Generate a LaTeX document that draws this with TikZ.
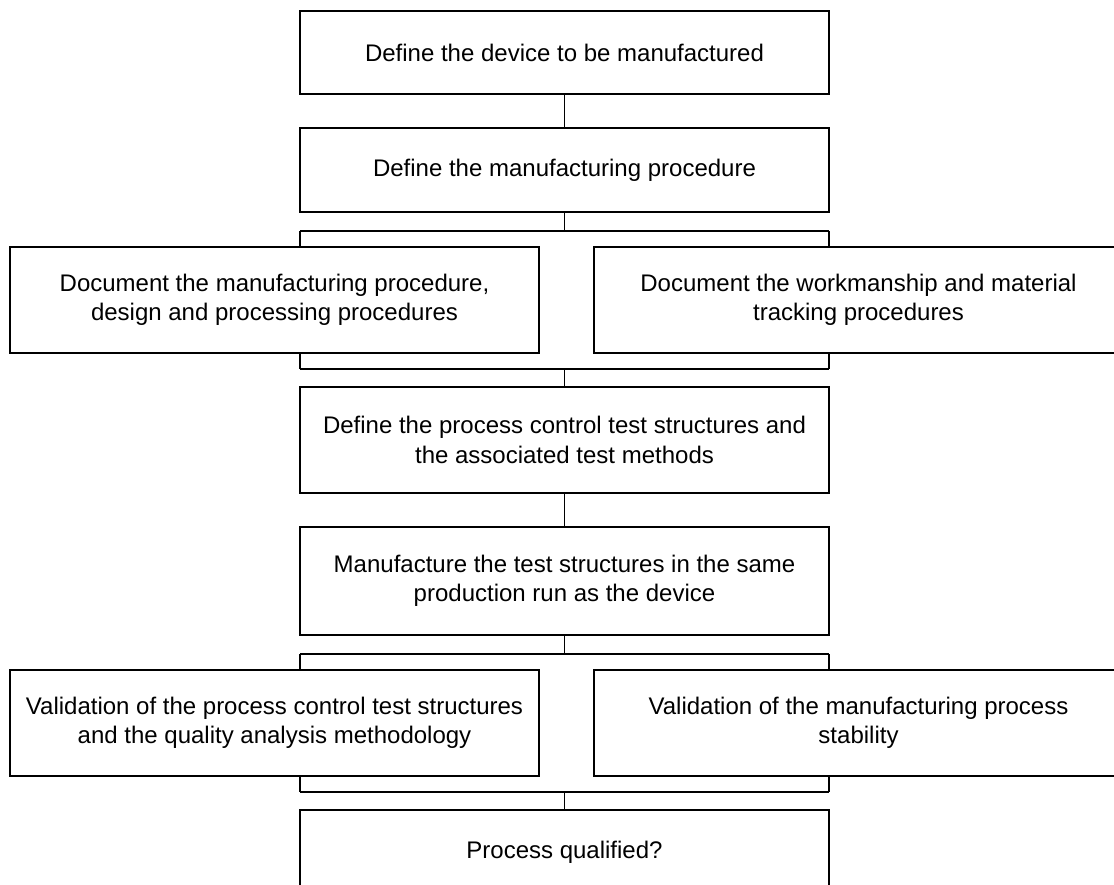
\documentclass[tikz,border=0pt]{standalone}
\usepackage{fontspec}
\setmainfont{Liberation Sans}
\begin{document}
\begin{tikzpicture}[x=1pt,y=-1pt,
  box/.style={draw=black,line width=1.8pt,fill=white,minimum width=529pt,
    align=center,inner sep=0pt,font=\fontsize{24}{29.5}\selectfont},
  link/.style={draw=black,line width=1.6pt}]
\clip (0,0) rectangle (1114,885);
\fill[white] (0,0) rectangle (1114,885);
% boxes
\node[box,minimum height=83pt] (b1) at (564.5,52.5) {Define the device to be manufactured};
\node[box,minimum height=84pt] (b2) at (564.5,170) {Define the manufacturing procedure};
\node[box,minimum height=106pt] (b3) at (274.5,300) {Document the manufacturing procedure,\\design and processing procedures};
\node[box,minimum height=106pt] (b4) at (858.5,300) {Document the workmanship and material\\tracking procedures};
\node[box,minimum height=106pt] (b5) at (564.5,440) {Define the process control test structures and\\the associated test methods};
\node[box,minimum height=108pt] (b6) at (564.5,581) {Manufacture the test structures in the same\\production run as the device};
\node[box,minimum height=106pt] (b7) at (274.5,723) {Validation of the process control test structures\\and the quality analysis methodology};
\node[box,minimum height=106pt] (b8) at (858.5,723) {Validation of the manufacturing process\\stability};
\node[box,minimum height=84pt] (b9) at (564.5,852) {Process qualified?};
% junction coordinates
\coordinate (s1l) at (300,231);
\coordinate (s1r) at (829,231);
\coordinate (m1l) at (300,369);
\coordinate (m1r) at (829,369);
\coordinate (s2l) at (300,654);
\coordinate (s2r) at (829,654);
\coordinate (m2l) at (300,792);
\coordinate (m2r) at (829,792);
% connectors
\draw[link] (b1.south) -- (b2.north);
\draw[link] (b2.south) -- (b2.south |- s1l);
\draw[link] (s1l) -- (s1r);
\draw[link] (s1l) -- (s1l |- b3.north);
\draw[link] (s1r) -- (s1r |- b4.north);
\draw[link] (s1l |- b3.south) -- (m1l);
\draw[link] (s1r |- b4.south) -- (m1r);
\draw[link] (m1l) -- (m1r);
\draw[link] (b5.north |- m1l) -- (b5.north);
\draw[link] (b5.south) -- (b6.north);
\draw[link] (b6.south) -- (b6.south |- s2l);
\draw[link] (s2l) -- (s2r);
\draw[link] (s2l) -- (s2l |- b7.north);
\draw[link] (s2r) -- (s2r |- b8.north);
\draw[link] (s2l |- b7.south) -- (m2l);
\draw[link] (s2r |- b8.south) -- (m2r);
\draw[link] (m2l) -- (m2r);
\draw[link] (b9.north |- m2l) -- (b9.north);
\end{tikzpicture}
\end{document}
